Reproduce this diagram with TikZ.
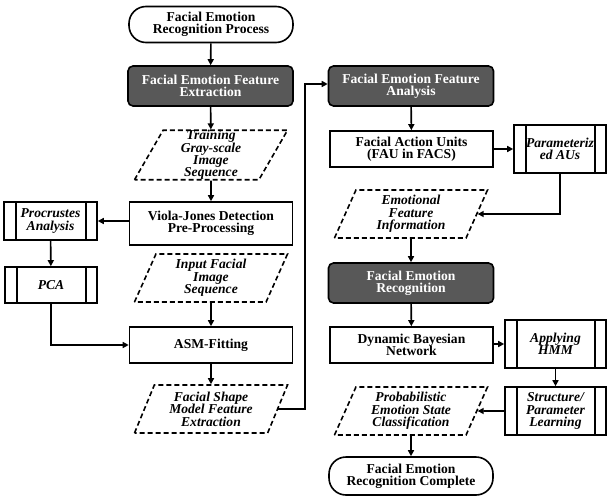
\documentclass[tikz,border=0pt]{standalone}
\usepackage{fontspec}
\setmainfont{Liberation Serif}
\usepackage{tikz}
\usetikzlibrary{shapes.geometric, positioning, arrows.meta}
\definecolor{FEDark}{RGB}{88,88,88}

\begin{document}
\begin{tikzpicture}[x=1pt, y=-1pt,
      every node/.style={font=\fontsize{13.6}{12.4}\selectfont\bfseries, align=center},
      base/.style={draw, line width=1.6pt, inner sep=0pt},
      term/.style={base, rectangle, rounded corners=17pt, minimum width=164pt,
                   minimum height=36pt},
      dbox/.style={base, rectangle, rounded corners=5pt, fill=FEDark, text=white,
                   minimum width=165pt, minimum height=40pt},
      pbox/.style={base, rectangle, minimum width=163pt, minimum height=36pt},
      iobox/.style={base, trapezium, trapezium left angle=60, trapezium right angle=120,
                   trapezium stretches body, minimum width=153pt, minimum height=48pt,
                   dash pattern=on 5pt off 3pt,
                   font=\fontsize{13.6}{12.4}\selectfont\bfseries\itshape},
      subbox/.style={base, rectangle, minimum height=48pt,
                   font=\fontsize{13.6}{12.4}\selectfont\bfseries\itshape,
                   path picture={
                     \draw[line width=1.6pt]
                       ([xshift=12pt]path picture bounding box.north west) --
                       ([xshift=12pt]path picture bounding box.south west)
                       ([xshift=-11pt]path picture bounding box.north east) --
                       ([xshift=-11pt]path picture bounding box.south east);}},
      arr/.style={-{Triangle[length=6pt, width=6pt]}, line width=1.6pt}
    ]
    \useasboundingbox (0,0) rectangle (607,497);

    % left column
    \node[term]  (start)   at (211, 24.5) {Facial Emotion\\Recognition Process};
    \node[dbox]  (extract) at (210.5, 86) {Facial Emotion Feature\\Extraction};
    \node[iobox] (train)   at (211, 155)  {Training\\Gray-scale\\Image\\Sequence};
    \node[pbox, minimum height=43pt] (viola) at (211, 223.5)
          {Viola-Jones Detection\\Pre-Processing};
    \node[subbox, minimum width=93pt, minimum height=38pt] (procr) at (50.5, 221)
          {Procrustes\\Analysis};
    \node[subbox, minimum width=92pt, minimum height=36pt] (pca) at (51, 285) {PCA};
    \node[iobox] (input)   at (211, 278)  {Input Facial\\Image\\Sequence};
    \node[pbox]  (asm)     at (211, 345)  {ASM-Fitting};
    \node[iobox] (shape)   at (211, 409)  {Facial Shape\\Model Feature\\Extraction};

    % right column
    \node[dbox]  (analysis) at (411, 86)   {Facial Emotion Feature\\Analysis};
    \node[pbox]  (fau)      at (411.5, 149) {Facial Action Units\\(FAU in FACS)};
    \node[subbox, minimum width=92pt] (param) at (560, 149) {Parameteriz\\ed AUs};
    \node[iobox] (emo)      at (411, 214)  {Emotional\\Feature\\Information};
    \node[dbox]  (recog)    at (411, 283)  {Facial Emotion\\Recognition};
    \node[pbox]  (dbn)      at (411.5, 345) {Dynamic Bayesian\\Network};
    \node[subbox, minimum width=101pt] (hmm)    at (555.5, 344) {Applying\\HMM};
    \node[subbox, minimum width=101pt] (struct) at (555.5, 411) {Structure/\\Parameter\\Learning};
    \node[iobox] (prob)     at (411, 411)  {Probabilistic\\Emotion State\\Classification};
    \node[term, minimum height=38pt] (finish) at (411, 476)
          {Facial Emotion\\Recognition Complete};

    \coordinate (bus) at (305, 0);

    \draw[arr] (start) -- (extract);
    \draw[arr] (extract) -- (train);
    \draw[arr] (train) -- (viola);
    \draw[arr] (viola.west |- procr.east) -- (procr.east);
    \draw[arr] (procr) -- (pca);
    \draw[arr] (pca.south) |- (asm.west);
    \draw[arr] (input) -- (asm);
    \draw[arr] (asm) -- (shape);
    \draw[arr] (shape.east) -- (shape.east -| bus) |- ([yshift=2pt]analysis.west);

    \draw[arr] (analysis) -- (fau);
    \draw[arr] (fau) -- (param);
    \draw[arr] (param.south) |- (emo.east);
    \draw[arr] (emo) -- (recog);
    \draw[arr] (recog) -- (dbn);
    \draw[arr] (dbn.east |- hmm.west) -- (hmm.west);
    \draw[arr] (hmm) -- (struct);
    \draw[arr] (struct.west) -- (prob.east);
    \draw[arr] (prob) -- (finish);
  \end{tikzpicture}
\end{document}
